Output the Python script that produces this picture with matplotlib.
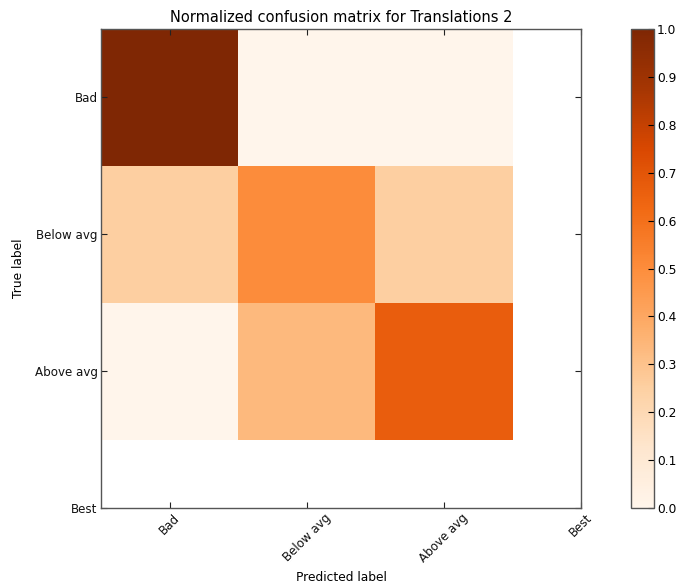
import numpy as np
import matplotlib
matplotlib.use("Agg")
import matplotlib.pyplot as plt

classes = ["Bad", "Below avg", "Above avg", "Best"]
cm_bad = [1.0, 0.0, 0.0]
cm_below = [0.25, 0.5, 0.25]
cm_above = [0.0, 1 / 3, 2 / 3]
cm = np.array([cm_bad, cm_below, cm_above])

plt.rcParams["font.family"] = "DejaVu Sans"
plt.rcParams["font.size"] = 8.6

fig = plt.figure(figsize=(6.8, 5.88), dpi=100)
W, H = 680, 588
ax = fig.add_axes([101 / W, (H - 508) / H, 480 / W, 479 / H])
cax = fig.add_axes([631 / W, (H - 508) / H, 23 / W, 479 / H])

im = ax.imshow(cm, interpolation="nearest", cmap=plt.cm.Oranges, vmin=0, vmax=1)
ax.set_xlim(-0.5, 3)
ax.set_ylim(3, -0.5)
ax.set_aspect("auto")

ticks = np.arange(len(classes))
ax.set_xticks(ticks)
ax.set_xticklabels(classes, rotation=45)
ax.set_yticks(ticks)
ax.set_yticklabels(classes)
ax.tick_params(direction="in", top=True, right=True, length=4, width=0.8,
               labelsize=8.6, pad=2.5, colors="#222222", labelcolor="#111111")
for s in ax.spines.values():
    s.set_linewidth(1.0)
    s.set_color("#555555")

ax.set_title("Normalized confusion matrix for Translations 2", fontsize=10.5, pad=5)
ax.set_ylabel("True label", fontsize=8.8)
ax.set_xlabel("Predicted label", fontsize=8.8)
ax.xaxis.set_label_coords(0.5, -0.131)
ax.yaxis.set_label_coords(-0.158, 0.5)

cb = fig.colorbar(im, cax=cax, ticks=np.linspace(0, 1, 11))
cb.ax.tick_params(direction="in", length=4, width=0.8, labelsize=8.8, pad=2)
cb.outline.set_linewidth(1.0)
cb.outline.set_edgecolor("#555555")

fig.savefig("out.png", dpi=100, facecolor="white")
